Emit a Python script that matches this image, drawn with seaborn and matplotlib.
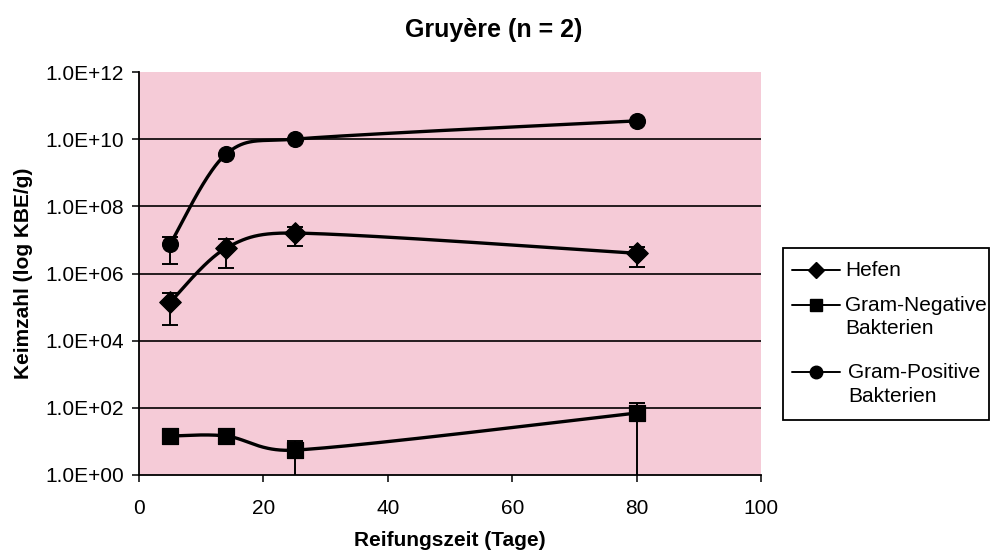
import numpy as np
import pandas as pd
import matplotlib
matplotlib.use("Agg")
import matplotlib.pyplot as plt
import seaborn as sns
from matplotlib.lines import Line2D
from matplotlib.patches import Rectangle

days = [5, 14, 25, 80]
hefen = [1.4e5, 5.7e6, 1.6e7, 4.0e6]
hefen_hi = [2.6e5, 1.05e7, 2.4e7, 6.3e6]
hefen_lo = [2.9e4, 1.45e6, 6.6e6, 1.55e6]
gneg = [14.5, 14.5, 5.5, 70.0]
gneg_hi = [14.5, 14.5, 10.2, 138.0]
gneg_lo = [14.5, 14.5, 0.5, 0.5]
gpos = [7.5e6, 3.6e9, 1.0e10, 3.5e10]
gpos_hi = [1.2e7, 3.6e9, 1.0e10, 3.5e10]
gpos_lo = [1.9e6, 3.6e9, 1.0e10, 3.5e10]
series_names = ["Hefen", "Gram-Negative\nBakterien", "Gram-Positive\nBakterien"]
markers = ["D", "s", "o"]
xticks = [0, 20, 40, 60, 80, 100]
yticks = [1e0, 1e2, 1e4, 1e6, 1e8, 1e10, 1e12]
ytick_labels = ["1.0E+00", "1.0E+02", "1.0E+04", "1.0E+06", "1.0E+08", "1.0E+10", "1.0E+12"]

sns.set_theme(style="white")
plt.rcParams["font.family"] = ["Liberation Sans", "DejaVu Sans"]
plt.rcParams["text.color"] = "black"
plt.rcParams["xtick.color"] = "black"
plt.rcParams["ytick.color"] = "black"
plt.rcParams["axes.labelcolor"] = "black"

W, H = 990, 554
fig = plt.figure(figsize=(W / 100, H / 100), dpi=100)
ax = fig.add_axes([139 / W, 1 - 475 / H, 622 / W, 403 / H])
ax.set_facecolor("#F5CBD7")

ASPECT = 403.0 / 622.0


def smooth(xs, ys, n=60):
    # Excel-like smoothed line (Bezier, tension 1/6, capped) in screen-like space
    x = np.asarray(xs, float) / 100.0
    y = np.log10(np.asarray(ys, float)) / 12.0 * ASPECT
    P = np.column_stack([x, y])
    P = np.vstack([P[0], P, P[-1]])
    out = []
    for i in range(1, len(P) - 2):
        p0, p1, p2, p3 = P[i - 1], P[i], P[i + 1], P[i + 2]
        d12 = np.linalg.norm(p2 - p1)
        t1 = (p2 - p0) / 6.0
        t2 = (p3 - p1) / 6.0
        if np.linalg.norm(t1) > d12 / 2:
            t1 = t1 / np.linalg.norm(t1) * d12 / 2
        if np.linalg.norm(t2) > d12 / 2:
            t2 = t2 / np.linalg.norm(t2) * d12 / 2
        c1 = p1 + t1
        c2 = p2 - t2
        t = np.linspace(0, 1, n)[:, None]
        b = (1 - t) ** 3 * p1 + 3 * (1 - t) ** 2 * t * c1 + 3 * (1 - t) * t ** 2 * c2 + t ** 3 * p2
        out.append(b)
    out = np.vstack(out)
    return out[:, 0] * 100.0, 10 ** (out[:, 1] / ASPECT * 12.0)


all_series = [(hefen, hefen_lo, hefen_hi), (gneg, gneg_lo, gneg_hi), (gpos, gpos_lo, gpos_hi)]
for name, mk, (vals, lo, hi) in zip(series_names, markers, all_series):
    sx, sy = smooth(days, vals)
    sns.lineplot(x=sx, y=sy, ax=ax, color="black", lw=2.4, sort=False, estimator=None, zorder=3)
    yerr = np.array([np.array(vals) - np.array(lo), np.array(hi) - np.array(vals)])
    ax.errorbar(days, vals, yerr=yerr, fmt="none", ecolor="black", elinewidth=1.4,
                capsize=6, capthick=1.4, zorder=2)
    sns.scatterplot(x=days, y=vals, ax=ax, marker=mk, color="black",
                    s={"D": 120, "s": 120, "o": 130}[mk], edgecolor="black", zorder=4)

ax.set_yscale("log")
ax.set_xlim(0, 100)
ax.set_ylim(1e0, 1e12)
ax.set_xticks(xticks)
ax.set_xticklabels([str(v) for v in xticks], fontsize=15)
ax.set_yticks(yticks)
ax.set_yticklabels(ytick_labels, fontsize=15)
ax.yaxis.set_minor_locator(matplotlib.ticker.NullLocator())
ax.tick_params(axis="y", which="major", direction="out", length=5, width=1.1, color="black",
               left=True, pad=6)
ax.tick_params(axis="x", which="major", direction="out", length=5, width=1.1, color="black",
               bottom=True, pad=12)
for v in yticks[1:-1]:
    ax.axhline(v, color="black", lw=1.2, zorder=1)
for side in ["top", "right"]:
    ax.spines[side].set_visible(False)
for side in ["left", "bottom"]:
    ax.spines[side].set_color("black")
    ax.spines[side].set_linewidth(1.3)

fig.text(494 / W, 1 - 30 / H, "Gruyère (n = 2)", ha="center", va="center", fontsize=18,
         fontweight="bold")
fig.text(450 / W, 1 - 541 / H, "Reifungszeit (Tage)", ha="center", va="center", fontsize=15,
         fontweight="bold")
fig.text(24 / W, 1 - 273 / H, "Keimzahl (log KBE/g)", ha="center", va="center", rotation=90,
         fontsize=15, fontweight="bold")

# legend drawn in figure pixel layout (handle aligned with first label line)
fig.add_artist(Rectangle((783 / W, 1 - 420 / H), 206 / W, 172 / H, transform=fig.transFigure,
                         facecolor="white", edgecolor="black", lw=1.3))
legend_rows = [270, 305, 372]
text_x = [845, 845, 848]
for name, mk, yy, tx in zip(series_names, markers, legend_rows, text_x):
    fy = 1 - yy / H
    fig.add_artist(Line2D([792 / W, 840 / W], [fy, fy], transform=fig.transFigure, color="black",
                          lw=1.4))
    fig.add_artist(Line2D([816 / W], [fy], transform=fig.transFigure, color="black", lw=0,
                          marker=mk, markersize={"D": 8, "s": 8, "o": 9}[mk],
                          markerfacecolor="black", markeredgecolor="black"))
    fig.text(tx / W, fy + 9 / H, name, ha="left", va="top", fontsize=15, linespacing=1.3)

fig.savefig("out.png", dpi=100, facecolor="white")
